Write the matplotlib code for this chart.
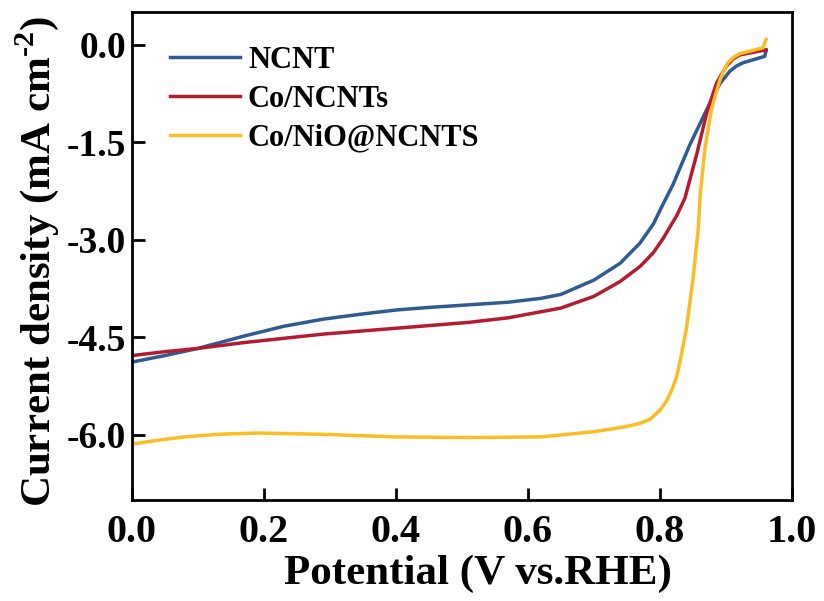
import numpy as np
import matplotlib.pyplot as plt

# LSV curves
ncnt_v = [0.0, 0.05, 0.10, 0.17, 0.23, 0.29, 0.35, 0.40, 0.45, 0.51, 0.57, 0.62,
          0.65, 0.70, 0.74, 0.77, 0.79, 0.805, 0.82, 0.845, 0.871, 0.891, 0.906,
          0.916, 0.926, 0.946, 0.959, 0.961]
ncnt_j = [-4.88, -4.78, -4.67, -4.48, -4.33, -4.22, -4.14, -4.08, -4.04, -4.00,
          -3.96, -3.90, -3.84, -3.62, -3.36, -3.05, -2.76, -2.45, -2.15, -1.55,
          -1.00, -0.60, -0.41, -0.33, -0.28, -0.22, -0.18, -0.09]

co_v = [0.0, 0.05, 0.10, 0.17, 0.29, 0.40, 0.51, 0.57, 0.65, 0.70, 0.74, 0.77,
        0.79, 0.805, 0.826, 0.838, 0.856, 0.871, 0.886, 0.901, 0.911, 0.921,
        0.941, 0.961]
co_j = [-4.78, -4.72, -4.67, -4.58, -4.45, -4.36, -4.27, -4.20, -4.05, -3.87,
        -3.64, -3.41, -3.20, -2.98, -2.62, -2.36, -1.68, -1.05, -0.59, -0.33,
        -0.22, -0.16, -0.12, -0.08]

coni_v = [0.0, 0.04, 0.08, 0.13, 0.19, 0.29, 0.40, 0.51, 0.62, 0.70, 0.75, 0.77,
          0.785, 0.80, 0.81, 0.818, 0.825, 0.83, 0.84, 0.85, 0.858, 0.861, 0.868,
          0.878, 0.891, 0.897, 0.903, 0.911, 0.921, 0.941, 0.956, 0.961]
coni_j = [-6.14, -6.08, -6.03, -5.99, -5.97, -5.99, -6.03, -6.04, -6.03, -5.95,
          -5.87, -5.82, -5.76, -5.62, -5.48, -5.31, -5.12, -4.90, -4.38, -3.62,
          -2.85, -2.33, -1.62, -1.00, -0.54, -0.40, -0.28, -0.20, -0.14, -0.09,
          -0.05, 0.08]

labels = ["NCNT", "Co/NCNTs", "Co/NiO@NCNTS"]
colors = ["#2f5a92", "#b41b30", "#fbbc24"]

x_ticks = [0.0, 0.2, 0.4, 0.6, 0.8, 1.0]
y_ticks = [0.0, -1.5, -3.0, -4.5, -6.0]

plt.rcParams['font.family'] = ['Liberation Serif', 'DejaVu Serif']
plt.rcParams['font.weight'] = 'bold'
plt.rcParams['mathtext.fontset'] = 'custom'
plt.rcParams['mathtext.rm'] = 'Liberation Serif:bold'
plt.rcParams['mathtext.bf'] = 'Liberation Serif:bold'

fig = plt.figure(figsize=(8.24, 6.01), dpi=100)
ax = fig.add_axes([0.160, 0.168, 0.801, 0.812])

for v, j, lab, c in zip([ncnt_v, co_v, coni_v], [ncnt_j, co_j, coni_j], labels, colors):
    ax.plot(v, j, color=c, linewidth=2.5, label=lab)

ax.set_xlim(0, 1.0)
ax.set_ylim(-7.0, 0.5)
ax.set_xticks(x_ticks)
ax.set_yticks(y_ticks)
ax.set_xticklabels([f"{t:.1f}" for t in x_ticks], fontsize=29, fontweight='bold')
ax.set_yticklabels([f"{t:.1f}" for t in y_ticks], fontsize=27, fontweight='bold')
ax.tick_params(direction='in', length=9, width=2, top=False, right=False, pad=4)
ax.tick_params(axis='x', pad=10)
for s in ax.spines.values():
    s.set_linewidth(2)

ax.set_xlabel("Potential (V vs.RHE)", fontsize=31, fontweight='bold')
ax.xaxis.set_label_coords(0.525, -0.112)
ax.set_ylabel(r"Current density (mA cm$^{\text{-2}}$)", fontsize=31, fontweight='bold')
ax.yaxis.set_label_coords(-0.108, 0.49)

ax.legend(loc='upper left', bbox_to_anchor=(0.03, 0.968), frameon=False,
          prop={'size': 22, 'weight': 'bold'}, handlelength=2.3, handletextpad=0.25,
          labelspacing=0.32, borderaxespad=0.2)

fig.savefig("out.png", dpi=100)
